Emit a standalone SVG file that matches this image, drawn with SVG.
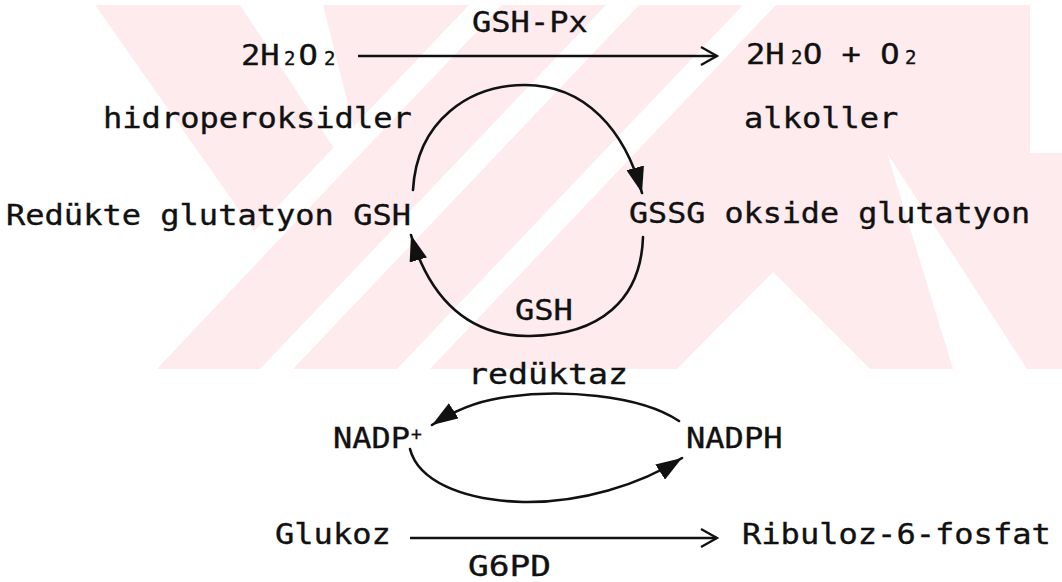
<svg xmlns="http://www.w3.org/2000/svg" width="1062" height="582" viewBox="0 0 1062 582">
  <style>
    .t { font-family: "DejaVu Sans Mono", "Liberation Mono", monospace; font-size: 28px; fill: #111; stroke: #111; stroke-width: 0.35; }
    .sub { font-size: 19px; }
    .sup { font-size: 18px; }
    .line { fill: none; stroke: #111; stroke-width: 2.3; }
    .curve { fill: none; stroke: #111; stroke-width: 2.6; stroke-linecap: round; }
    .wm { fill: #fdebee; }
    .gap { fill: #ffffff; }
  </style>
  <defs>
    <marker id="open" markerUnits="userSpaceOnUse" markerWidth="20" markerHeight="22" refX="17" refY="10" orient="auto">
      <path d="M1,1 L17,10 L1,19" fill="none" stroke="#111" stroke-width="2.3"/>
    </marker>
    <marker id="solid" markerUnits="userSpaceOnUse" markerWidth="28" markerHeight="18" refX="26" refY="9" orient="auto">
      <path d="M0,0 L26,9 L0,18 z" fill="#111"/>
    </marker>
    <clipPath id="wmclip">
      <rect x="95" y="5" width="967" height="364"/>
    </clipPath>
  </defs>

  <rect width="1062" height="582" fill="#ffffff"/>

  <!-- faint background emblem -->
  <g id="emblem" clip-path="url(#wmclip)">
    <rect class="wm" x="95" y="5" width="967" height="364"/>
    <polygon class="gap" points="95,5 268,251 157,369 95,369"/>
    <polygon class="gap" points="240,5 323,5 360,152 345,165"/>
    <polygon class="gap" points="123,369 156,369 502,5 469,5"/>
    <polygon class="gap" points="260,369 293,369 639,5 606,5"/>
    <polygon class="gap" points="397,369 430,369 776,5 743,5"/>
    <polygon class="gap" points="677,369 773,272 870,369"/>
    <polygon class="gap" points="887,153 1027,369 953,369"/>
    <polygon class="gap" points="1030,5 1062,5 1062,153 1030,153"/>
  </g>

  <!-- connectors -->
  <g id="connectors">
    <line class="line" x1="358" y1="56" x2="717" y2="56" marker-end="url(#open)"/>
    <line class="line" x1="410" y1="538" x2="717" y2="538" marker-end="url(#open)"/>
    <path class="curve" d="M413,190 C417,120 470,85 525,85 C585,85 625,130 642,193" marker-end="url(#solid)"/>
    <path class="curve" d="M643,237 C641,300 600,335 530,336 C470,337 430,300 411,235" marker-end="url(#solid)"/>
    <path class="curve" d="M679,421 C640,395 560,388 500,398 C475,402 455,410 432,425" marker-end="url(#solid)"/>
    <path class="curve" d="M410,449 C418,480 460,500 523,502 C580,503 640,485 682,458" marker-end="url(#solid)"/>
  </g>

  <!-- nodes -->
  <g id="enzyme-gshpx"><text class="t" x="472" y="32" textLength="115.8" lengthAdjust="spacingAndGlyphs">GSH-Px</text></g>
  <g id="h2o2">
    <text class="t" x="241" y="65" textLength="38.6" lengthAdjust="spacingAndGlyphs">2H</text>
    <text class="t sub" x="284" y="65">2</text>
    <text class="t" x="298.5" y="65" textLength="19.3" lengthAdjust="spacingAndGlyphs">O</text>
    <text class="t sub" x="324" y="65">2</text>
  </g>
  <g id="water-oxygen">
    <text class="t" x="746" y="64" textLength="38.6" lengthAdjust="spacingAndGlyphs">2H</text>
    <text class="t sub" x="791" y="64">2</text>
    <text class="t" x="803" y="64" textLength="96.5" lengthAdjust="spacingAndGlyphs">O + O</text>
    <text class="t sub" x="905" y="64">2</text>
  </g>
  <g id="hydroperoxides"><text class="t" x="103" y="128" textLength="308.8" lengthAdjust="spacingAndGlyphs">hidroperoksidler</text></g>
  <g id="alcohols"><text class="t" x="744" y="128" textLength="154.4" lengthAdjust="spacingAndGlyphs">alkoller</text></g>
  <g id="gsh"><text class="t" x="6" y="225" textLength="405" lengthAdjust="spacingAndGlyphs">Redükte glutatyon GSH</text></g>
  <g id="gssg"><text class="t" x="629" y="223" textLength="401" lengthAdjust="spacingAndGlyphs">GSSG okside glutatyon</text></g>
  <g id="enzyme-reductase">
    <text class="t" x="515" y="320" textLength="57.9" lengthAdjust="spacingAndGlyphs">GSH</text>
    <text class="t" x="468" y="384" textLength="160" lengthAdjust="spacingAndGlyphs">redüktaz</text>
  </g>
  <g id="nadp">
    <text class="t" x="333" y="448" textLength="77" lengthAdjust="spacingAndGlyphs">NADP</text>
    <text class="t sup" x="411" y="440">+</text>
  </g>
  <g id="nadph"><text class="t" x="686" y="448" textLength="96.5" lengthAdjust="spacingAndGlyphs">NADPH</text></g>
  <g id="glucose"><text class="t" x="275" y="544" textLength="115.8" lengthAdjust="spacingAndGlyphs">Glukoz</text></g>
  <g id="ribulose"><text class="t" x="742" y="544" textLength="308.8" lengthAdjust="spacingAndGlyphs">Ribuloz-6-fosfat</text></g>
  <g id="enzyme-g6pd"><text class="t" x="468" y="576" textLength="83" lengthAdjust="spacingAndGlyphs">G6PD</text></g>
</svg>
